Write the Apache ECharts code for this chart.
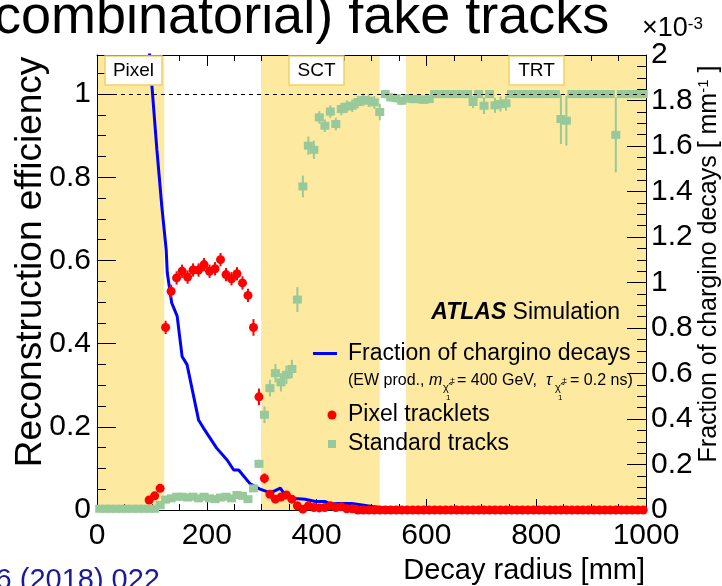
<!DOCTYPE html>
<html>
<head>
<meta charset="utf-8">
<script src="https://cdn.jsdelivr.net/npm/echarts@6/dist/echarts.min.js"></script>
<style>html,body{margin:0;padding:0;background:#fff;overflow:hidden}#c{width:722px;height:586px}</style>
</head>
<body>
<div id="c"></div>
<script>
// ---------------- data ----------------
const radius = [5,15,25,35,45,55,65,75,85,95,105,115,125,135,145,155,165,175,185,195,
  205,215,225,235,245,255,265,275,285,295,305,315,325,335,345,355,365,375,385,395,
  405,415,425,435,445,455,465,475,485,495,505,515,525,535,545,555,565,575,585,595,
  605,615,625,635,645,655,665,675,685,695,705,715,725,735,745,755,765,775,785,795,
  805,815,825,835,845,855,865,875,885,895,905,915,925,935,945,955,965,975,985,995];

const standardTracks = [0.003,0.003,0.003,0.003,0.003,0.003,0.003,0.003,0.003,0.003,0.003,0.012,0.025,0.028,0.032,0.032,0.030,0.032,0.028,0.032,
  0.028,0.026,0.030,0.032,0.028,0.036,0.034,0.026,0.052,0.111,0.229,0.293,0.329,0.307,0.325,0.339,0.506,0.778,0.876,0.866,
  0.944,0.924,0.958,0.928,0.964,0.970,0.972,0.981,0.986,0.984,0.980,0.957,1.0,0.992,0.990,0.984,0.990,0.988,0.988,0.986,
  0.988,1.0,1.0,1.0,1.0,1.0,1.0,1.0,0.981,1.0,0.972,1.0,0.973,0.976,0.978,1.0,1.0,1.0,1.0,1.0,
  1.0,1.0,1.0,1.0,0.940,0.936,1.0,1.0,1.0,1.0,1.0,1.0,1.0,1.0,0.902,1.0,1.0,1.0,1.0,1.0];
const standardErr = [0.004,0.004,0.004,0.004,0.004,0.004,0.004,0.004,0.004,0.004,0.004,0.004,0.004,0.004,0.004,0.004,0.004,0.004,0.004,0.004,
  0.004,0.004,0.004,0.004,0.004,0.004,0.004,0.004,0.006,0.01,0.02,0.02,0.022,0.022,0.022,0.022,0.03,0.026,0.022,0.022,
  0.015,0.015,0.015,0.015,0.015,0.015,0.015,0.015,0.015,0.015,0.015,0.02,0.01,0.01,0.01,0.01,0.01,0.01,0.01,0.01,
  0.01,0.003,0.003,0.003,0.003,0.003,0.003,0.003,0.015,0.003,0.02,0.003,0.018,0.018,0.018,0.003,0.003,0.003,0.003,0.003,
  0.003,0.003,0.003,0.003,0.06,0.06,0.003,0.003,0.003,0.003,0.003,0.003,0.003,0.003,0.09,0.003,0.003,0.003,0.003,0.003];

const pixelTracklets = [null,null,null,null,null,null,null,null,null,0.024,0.034,0.052,0.439,0.526,0.558,0.574,0.560,0.577,0.577,0.590,
  0.574,0.580,0.602,0.566,0.556,0.568,0.546,0.516,0.439,0.272,0.076,0.038,0.026,0.031,0.036,0.026,0.010,0.002,0.010,0.006,
  0.005,0.006,0.010,0.006,0.008,0.003,0.003,0,0,0,0,0,0,0,0,0,0,0,0,0,
  0,0,0,0,0,0,0,0,0,0,0,0,0,0,0,0,0,0,0,0,
  0,0,0,0,0,0,0,0,0,0,0,0,0,0,0,0,0,0,0,0];
const pixelErr = [0,0,0,0,0,0,0,0,0,0.008,0.008,0.008,0.016,0.016,0.016,0.016,0.016,0.016,0.016,0.016,
  0.016,0.016,0.016,0.016,0.016,0.016,0.016,0.016,0.02,0.02,0.012,0.007,0.007,0.007,0.007,0.007,0.004,0.004,0.004,0.004,
  0.004,0.004,0.004,0.004,0.004,0.004,0.004,0,0,0,0,0,0,0,0,0,0,0,0,0,
  0,0,0,0,0,0,0,0,0,0,0,0,0,0,0,0,0,0,0,0,
  0,0,0,0,0,0,0,0,0,0,0,0,0,0,0,0,0,0,0,0];

// fraction of chargino decays, in units of 1e-3 mm^-1
const decayR = [75,85,95,100,109,118,126,128,136,146,155,164,185,194,218,237,249,258,279,297,316,334,343,361,379,398,416,425,440,464,483,501,520,560,620,700,800,1000];
const decayFrac = [2.9,2.45,2.03,1.865,1.586,1.336,1.145,1.043,0.911,0.852,0.675,0.639,0.396,0.36,0.272,0.22,0.176,0.176,0.115,0.092,0.075,0.096,0.064,0.051,0.047,0.037,0.037,0.026,0.029,0.029,0.022,0.015,0.01,0.006,0.003,0.001,0,0];

const detectorBands = [[0,122.5,'Pixel'],[299,515,'SCT'],[563,1000,'TRT']];

// ---------------- helpers ----------------
const FONT = "'Liberation Sans', Arial, Helvetica, sans-serif";
const BAND = '#fde9a0', GREEN = '#97c99a', RED = '#ff0000', BLUE = '#0000ff';
function pts(xs, ys){ const o=[]; xs.forEach((x,i)=>{ if(ys[i]!=null) o.push([x, ys[i]]); }); return o; }
function errs(xs, ys, es){ const o=[]; xs.forEach((x,i)=>{ if(ys[i]!=null && es[i]>0) o.push([x, ys[i]-es[i], ys[i]+es[i]]); }); return o; }
function errRender(color){
  return function(params, api){
    const a = api.coord([api.value(0), api.value(1)]);
    const b = api.coord([api.value(0), api.value(2)]);
    return {type:'line', shape:{x1:a[0],y1:a[1],x2:b[0],y2:b[1]}, style:{stroke:color, lineWidth:2}};
  };
}
const black = {color:'#000', width:1};
function lbl(v){ return String(Math.round(v*10)/10); }

const chart = echarts.init(document.getElementById('c'));
const option = {
  animation:false,
  backgroundColor:'#fff',
  grid:{left:97, right:76, top:55, bottom:76},
  xAxis:[
    {type:'value', min:0, max:1000, interval:200, position:'bottom', z:1,
     axisLine:{show:true, onZero:false, lineStyle:black},
     axisTick:{show:true, inside:true, length:11, lineStyle:black},
     minorTick:{show:true, splitNumber:4, length:6, lineStyle:black},
     splitLine:{show:false},
     axisLabel:{fontSize:30, fontFamily:FONT, color:'#000', margin:11, formatter:v => String(v)}},
    {type:'value', min:0, max:1000, interval:200, position:'top', z:1,
     axisLine:{show:true, onZero:false, lineStyle:black},
     axisTick:{show:true, inside:true, length:11, lineStyle:black},
     minorTick:{show:true, splitNumber:4, length:6, lineStyle:black},
     splitLine:{show:false}, axisLabel:{show:false}}
  ],
  yAxis:[
    {type:'value', min:0, max:1.094, interval:0.2, position:'left', z:1,
     axisLine:{show:true, onZero:false, lineStyle:black},
     axisTick:{show:true, inside:true, length:19, lineStyle:black},
     minorTick:{show:false}, splitLine:{show:false},
     axisLabel:{fontSize:30, fontFamily:FONT, color:'#000', margin:6, showMaxLabel:false,
       formatter:v => (Math.abs(v*5-Math.round(v*5))<1e-6 ? lbl(v) : '')}},
    {type:'value', min:0, max:2, interval:0.2, position:'right', z:1,
     axisLine:{show:true, onZero:false, lineStyle:black},
     axisTick:{show:true, inside:true, length:19, lineStyle:black},
     minorTick:{show:true, splitNumber:4, length:9, lineStyle:black},
     splitLine:{show:false},
     axisLabel:{fontSize:30, fontFamily:FONT, color:'#000', margin:5, formatter:lbl}},
    {type:'value', min:0, max:1.094, interval:0.05, position:'left', z:1,
     axisLine:{show:false},
     axisTick:{show:true, inside:true, length:9, lineStyle:black},
     splitLine:{show:false}, axisLabel:{show:false}}
  ],
  series:[
    {type:'line', data:[], xAxisIndex:0, yAxisIndex:0, z:0, silent:true,
     markArea:{silent:true, itemStyle:{color:BAND, opacity:1},
       data: detectorBands.map(b => [{xAxis:b[0]},{xAxis:b[1]}])},
     markLine:{silent:true, symbol:'none', label:{show:false},
       lineStyle:{color:'#000', type:[4,4], width:1.2}, data:[{yAxis:1}]}},
    {type:'line', name:'Fraction of chargino decays', xAxisIndex:0, yAxisIndex:1, z:2,
     data: pts(decayR, decayFrac), showSymbol:false, symbol:'none', clip:true,
     lineStyle:{color:BLUE, width:3}},
    {type:'custom', xAxisIndex:0, yAxisIndex:0, z:3, renderItem:errRender(GREEN),
     data: errs(radius, standardTracks, standardErr), encode:{x:0, y:[1,2]}, clip:true},
    {type:'scatter', name:'Standard tracks', xAxisIndex:0, yAxisIndex:0, z:3,
     data: pts(radius, standardTracks), symbol:'rect', symbolSize:[9,8],
     itemStyle:{color:GREEN, opacity:1}},
    {type:'custom', xAxisIndex:0, yAxisIndex:0, z:4, renderItem:errRender(RED),
     data: errs(radius, pixelTracklets, pixelErr), encode:{x:0, y:[1,2]}, clip:true},
    {type:'scatter', name:'Pixel tracklets', xAxisIndex:0, yAxisIndex:0, z:4,
     data: pts(radius, pixelTracklets), symbol:'circle', symbolSize:9,
     itemStyle:{color:RED, opacity:1}}
  ],
  graphic:[
    // slide fragments
    {type:'text', x:-6, y:18, z:50, style:{text:'combinatorial) fake tracks', font:'54px '+FONT, fill:'#000', verticalAlign:'middle'}},
    {type:'text', x:160, y:581, z:50, style:{text:'JHEP 06 (2018) 022', font:'29px '+FONT, fill:'#1a1a9a', align:'right', verticalAlign:'middle'}},
    // exponent
    {type:'text', x:642, y:29, z:50, style:{text:'{n|×10}{s|-3}', verticalAlign:'middle',
      rich:{n:{fontSize:27, fontFamily:FONT, fill:'#000'}, s:{fontSize:17, fontFamily:FONT, fill:'#000', verticalAlign:'top'}}}},
    // axis titles
    {type:'text', x:31, y:262, rotation:Math.PI/2, z:50, style:{text:'Reconstruction efficiency', font:'37px '+FONT, fill:'#000', align:'center', verticalAlign:'middle'}},
    {type:'text', x:709, y:264, rotation:Math.PI/2, z:50, style:{text:'{n|Fraction of chargino decays [ mm}{s|-1}{n| ]}', align:'center', verticalAlign:'middle',
      rich:{n:{fontSize:25, fontFamily:FONT, fill:'#000'}, s:{fontSize:15, fontFamily:FONT, fill:'#000', verticalAlign:'top'}}}},
    {type:'text', x:645, y:571, z:50, style:{text:'Decay radius [mm]', font:'29px '+FONT, fill:'#000', align:'right', verticalAlign:'middle'}},
    // detector labels
    {type:'rect', z:50, shape:{x:105, y:56, width:57, height:29}, style:{fill:'#fff', stroke:'#f2d064', lineWidth:1.5}},
    {type:'text', z:51, x:133.5, y:71, style:{text:'Pixel', font:'19px '+FONT, fill:'#000', align:'center', verticalAlign:'middle'}},
    {type:'rect', z:50, shape:{x:289, y:56, width:55, height:29}, style:{fill:'#fff', stroke:'#f2d064', lineWidth:1.5}},
    {type:'text', z:51, x:316.5, y:71, style:{text:'SCT', font:'19px '+FONT, fill:'#000', align:'center', verticalAlign:'middle'}},
    {type:'rect', z:50, shape:{x:509, y:56, width:55, height:29}, style:{fill:'#fff', stroke:'#f2d064', lineWidth:1.5}},
    {type:'text', z:51, x:536.5, y:71, style:{text:'TRT', font:'19px '+FONT, fill:'#000', align:'center', verticalAlign:'middle'}},
    // ATLAS label
    {type:'text', z:50, x:620, y:313, style:{text:'{b|ATLAS}{n| Simulation}', align:'right', verticalAlign:'middle',
      rich:{b:{fontSize:23, fontFamily:FONT, fontWeight:'bold', fontStyle:'italic', fill:'#000'}, n:{fontSize:23, fontFamily:FONT, fill:'#000'}}}},
    // legend
    {type:'line', z:50, shape:{x1:313, y1:353.5, x2:337, y2:353.5}, style:{stroke:BLUE, lineWidth:3}},
    {type:'text', z:50, x:348, y:354, style:{text:'Fraction of chargino decays', font:'23px '+FONT, fill:'#000', verticalAlign:'middle'}},
    {type:'text', z:50, x:348, y:381, style:{text:'(EW prod., ', font:'16px '+FONT, fill:'#000', verticalAlign:'middle'}},
    {type:'text', z:50, x:429, y:381, style:{text:'m', font:'italic 16px '+FONT, fill:'#000', verticalAlign:'middle'}},
    {type:'text', z:50, x:443, y:388, style:{text:'χ\u0303', font:'11px '+FONT, fill:'#000', verticalAlign:'middle'}},
    {type:'text', z:50, x:450, y:381, style:{text:'±', font:'9px '+FONT, fill:'#000', verticalAlign:'middle'}},
    {type:'text', z:50, x:446, y:398, style:{text:'1', font:'8px '+FONT, fill:'#000', verticalAlign:'middle'}},
    {type:'text', z:50, x:457, y:381, style:{text:'= 400 GeV, ', font:'16px '+FONT, fill:'#000', verticalAlign:'middle'}},
    {type:'text', z:50, x:546, y:381, style:{text:'τ', font:'italic 16px '+FONT, fill:'#000', verticalAlign:'middle'}},
    {type:'text', z:50, x:555, y:388, style:{text:'χ\u0303', font:'11px '+FONT, fill:'#000', verticalAlign:'middle'}},
    {type:'text', z:50, x:562, y:381, style:{text:'±', font:'9px '+FONT, fill:'#000', verticalAlign:'middle'}},
    {type:'text', z:50, x:558, y:398, style:{text:'1', font:'8px '+FONT, fill:'#000', verticalAlign:'middle'}},
    {type:'text', z:50, x:570, y:381, style:{text:'= 0.2 ns)', font:'16px '+FONT, fill:'#000', verticalAlign:'middle'}},
    {type:'circle', z:50, shape:{cx:332, cy:415, r:4.5}, style:{fill:RED}},
    {type:'text', z:50, x:348, y:415, style:{text:'Pixel tracklets', font:'23px '+FONT, fill:'#000', verticalAlign:'middle'}},
    {type:'rect', z:50, shape:{x:328, y:440, width:8, height:8}, style:{fill:GREEN}},
    {type:'text', z:50, x:348, y:444, style:{text:'Standard tracks', font:'23px '+FONT, fill:'#000', verticalAlign:'middle'}}
  ]
};
chart.setOption(option);
</script>
</body>
</html>
